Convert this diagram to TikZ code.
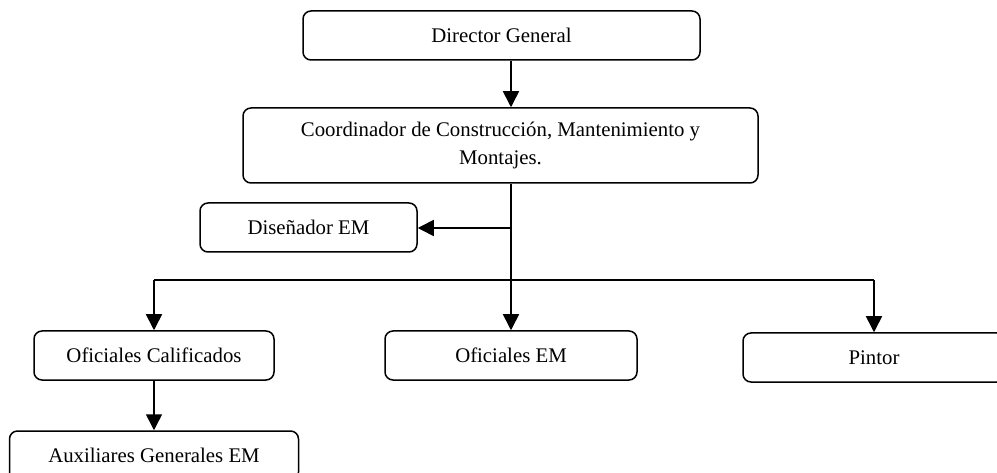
\documentclass[tikz,border=0pt]{standalone}
\usepackage{fontspec}
\setmainfont{Liberation Serif}
\usetikzlibrary{arrows.meta}
\begin{document}
\begin{tikzpicture}[x=1pt,y=1pt,
  box/.style={draw, line width=1.5pt, rounded corners=8pt, align=center,
    inner sep=0pt, font=\fontsize{20.8}{27.7}\selectfont},
  arr/.style={line width=1.6pt, -{Triangle[length=16pt,width=16pt]}},
  link/.style={line width=1.6pt}]
\useasboundingbox (0,0) rectangle (997,-473);

% positions
\node[box, minimum width=397pt, minimum height=49pt] (dir) at (501.5,-35.5) {Director General};
\node[box, minimum width=515pt, minimum height=75pt] (coord) at (500.5,-145.5)
  {Coordinador de Construcción, Mantenimiento y\\Montajes.};
\node[box, minimum width=217pt, minimum height=49pt] (dis) at (308.5,-227.5) {Diseñador EM};
\node[box, minimum width=240pt, minimum height=49pt] (ofc) at (154,-355.5) {Oficiales Calificados};
\node[box, minimum width=252pt, minimum height=49pt] (ofem) at (511,-355.5) {Oficiales EM};
\node[box, minimum width=262pt, minimum height=49pt] (pint) at (874,-357.5) {Pintor};
\node[box, minimum width=289pt, minimum height=49pt] (aux) at (154,-455.5) {Auxiliares Generales EM};

% junction points on the trunk
\coordinate (trunk) at (511,0);
\coordinate (split) at (511,-228);
\coordinate (bus) at (511,-280);

% connectors
\draw[arr] (dir.south -| trunk) -- (coord.north -| trunk);
\draw[arr] (coord.south -| trunk) -- (ofem.north);
\draw[arr] (split) -- (dis.east |- split);
\draw[link] (ofc.north |- bus) -- (pint.north |- bus);
\draw[arr] (ofc.north |- bus) -- (ofc.north);
\draw[arr] (pint.north |- bus) -- (pint.north);
\draw[arr] (ofc.south) -- (aux.north);
\end{tikzpicture}
\end{document}
